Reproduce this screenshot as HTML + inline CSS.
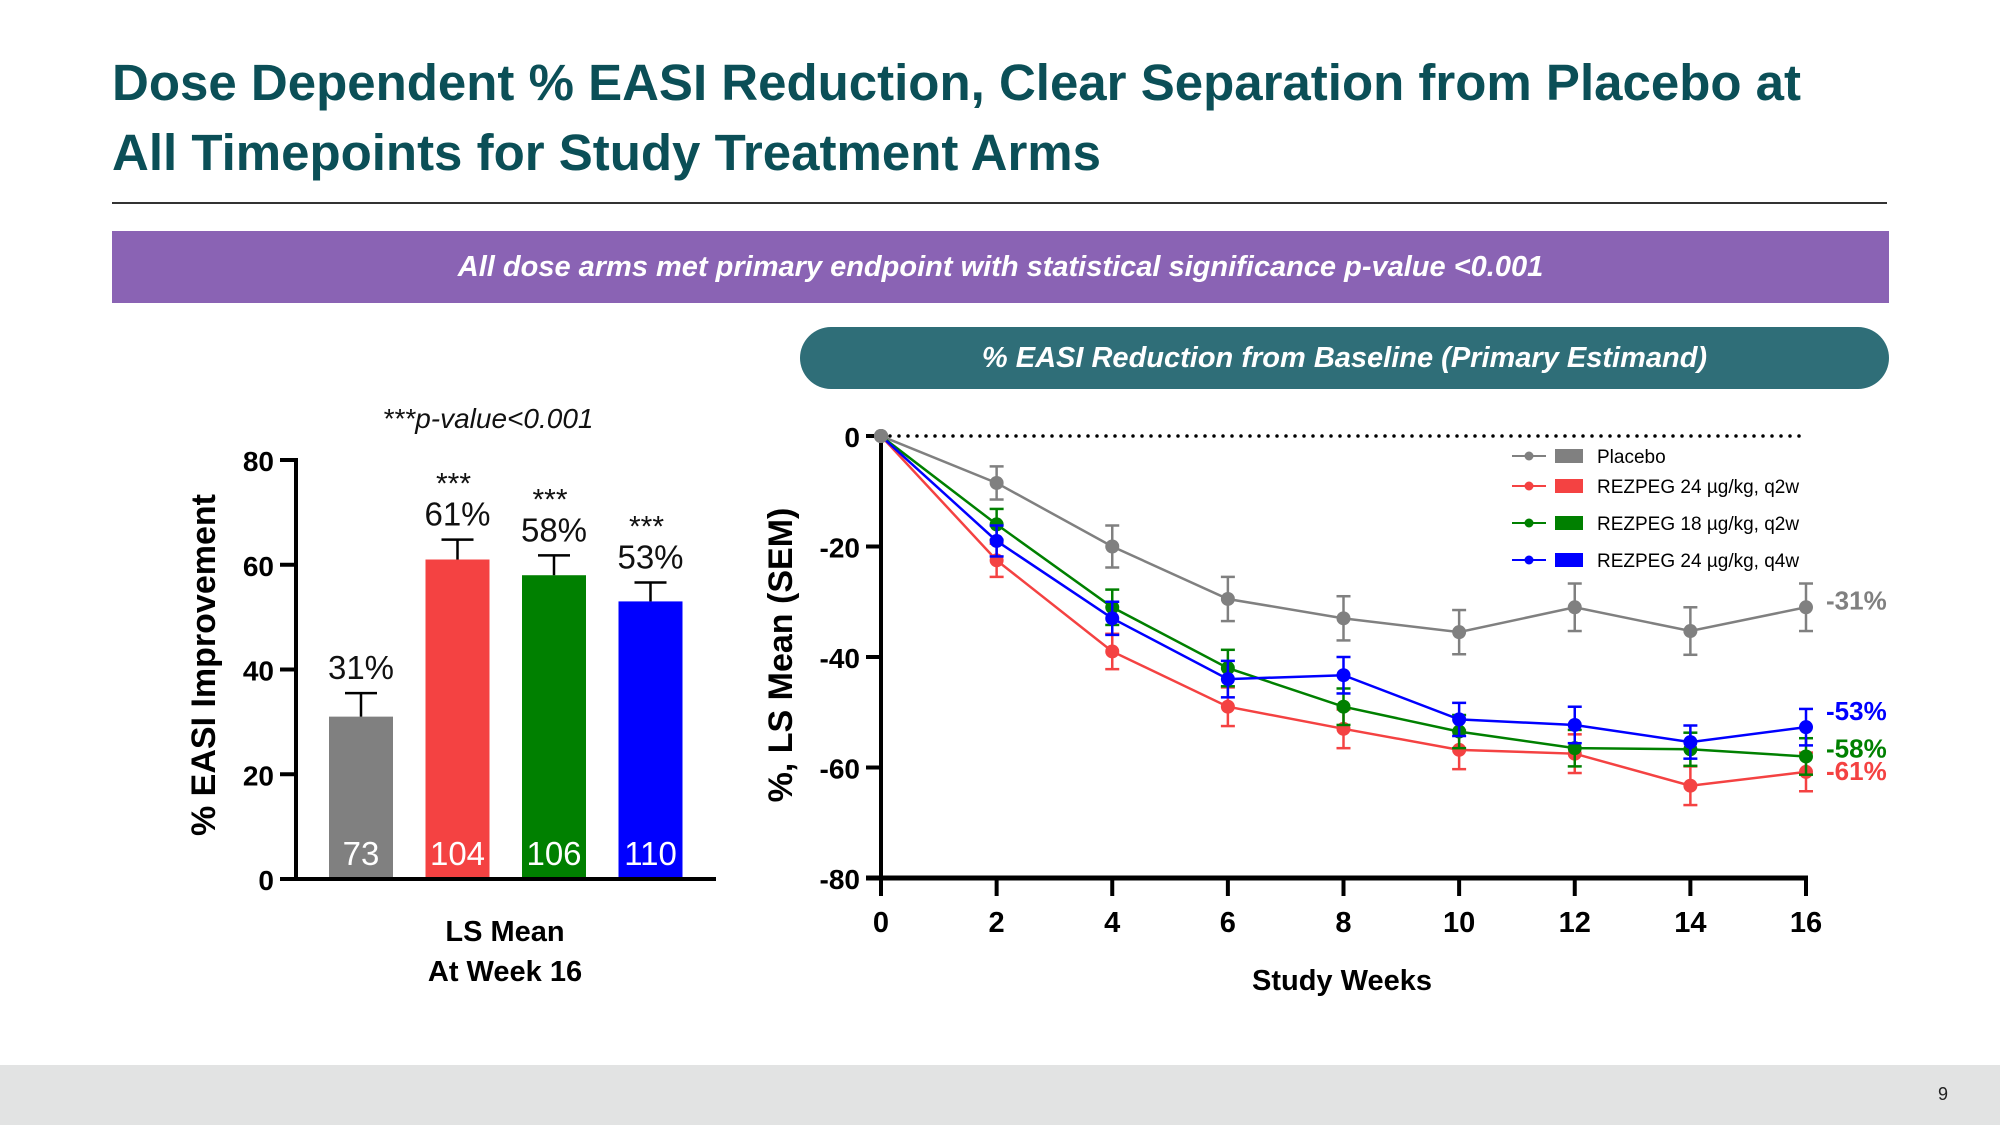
<!DOCTYPE html>
<html><head><meta charset="utf-8"><style>
body{margin:0;width:2000px;height:1125px;overflow:hidden;background:#fff;font-family:"Liberation Sans",sans-serif;position:relative}
.title{position:absolute;left:112px;top:48px;font-size:51px;font-weight:bold;color:#0b4f57;line-height:70px}
.rule{position:absolute;left:112px;top:202px;width:1775px;height:2px;background:#333}
.banner{position:absolute;left:112px;top:231px;width:1777px;height:72px;background:#8a63b4;color:#fff;font-style:italic;font-weight:bold;font-size:29px;text-align:center;line-height:72px}
.pill{position:absolute;left:800px;top:327px;width:1089px;height:62px;border-radius:31px;background:#2f6e78;color:#fff;font-style:italic;font-weight:bold;font-size:29px;text-align:center;line-height:62px}
.footer{position:absolute;left:0;top:1065px;width:2000px;height:60px;background:#e2e3e3}
.pg{position:absolute;left:1938px;top:1084px;font-size:18px;color:#222}
svg{position:absolute;left:0;top:0}
</style></head><body>
<div class="title">Dose Dependent % EASI Reduction, Clear Separation from Placebo at<br>All Timepoints for Study Treatment Arms</div>
<div class="rule"></div>
<div class="banner">All dose arms met primary endpoint with statistical significance p-value &lt;0.001</div>
<div class="pill">% EASI Reduction from Baseline (Primary Estimand)</div>
<div class="footer"></div>
<div class="pg">9</div>
<svg id="chart" width="2000" height="1125"></svg>
<script>
const barLabels=["Placebo","REZPEG 24 q2w","REZPEG 18 q2w","REZPEG 24 q4w"];
const barValues=[31,61,58,53];
const barErr=[4.5,3.8,3.8,3.6];
const barN=["73","104","106","110"];
const barPct=["31%","61%","58%","53%"];
const barStars=["","***","***","***"];
const barTicks=[0,20,40,60,80];
const colors=["#808080","#f44242","#008000","#0000ff"];

const weeks=[0,2,4,6,8,10,12,14,16];
const placebo=[0,-8.5,-20,-29.5,-33,-35.5,-31,-35.3,-31];
const rez24q2=[0,-22.5,-39,-49,-53,-56.8,-57.5,-63.3,-60.8];
const rez18q2=[0,-16,-31,-42,-49,-53.5,-56.5,-56.7,-58];
const rez24q4=[0,-19,-33,-44,-43.3,-51.3,-52.3,-55.4,-52.7];
const placeboErr=[0,3,3.8,4,4,4,4.3,4.3,4.3];
const rez24q2Err=[0,3,3.2,3.5,3.5,3.5,3.5,3.5,3.5];
const rez18q2Err=[0,2.8,3.2,3.3,3.3,3,3.3,3,3.3];
const rez24q4Err=[0,2.8,3,3.3,3.3,3,3.3,3,3.3];
const lineNames=["Placebo","REZPEG 24 µg/kg, q2w","REZPEG 18 µg/kg, q2w","REZPEG 24 µg/kg, q4w"];
const endLabels=["-31%","-61%","-58%","-53%"];
const xTicks=[0,2,4,6,8,10,12,14,16];
const yTicks=[0,-20,-40,-60,-80];

const NS="http://www.w3.org/2000/svg";
const svg=document.getElementById('chart');
function mk(tag,attrs,text){const e=document.createElementNS(NS,tag);for(const k in attrs)e.setAttribute(k,attrs[k]);if(text!==undefined)e.textContent=text;svg.appendChild(e);return e;}

// Bar chart
const by=v=>879-(v/80)*(879-460);
const bx=i=>329+i*96.5;const bw=64;
let t=mk('text',{x:488,y:428,'font-size':28,'font-style':'italic','text-anchor':'middle',fill:'#111'},'***p-value<0.001');


barValues.forEach((v,i)=>{
  const r=mk('rect',{x:bx(i),y:by(v),width:bw,height:879-by(v),fill:colors[i]});
  
  
  const cx=bx(i)+bw/2, ty=by(v+barErr[i]);
  mk('line',{x1:cx,y1:by(v),x2:cx,y2:ty,stroke:'#000','stroke-width':2.5});
  mk('line',{x1:cx-16,y1:ty,x2:cx+16,y2:ty,stroke:'#000','stroke-width':2.5});
  const p=mk('text',{x:cx,y:ty-14,'font-size':33,'text-anchor':'middle',fill:'#111'},barPct[i]);
  
  
  if(barStars[i]){const s=mk('text',{x:cx-4,y:ty-46,'font-size':30,'text-anchor':'middle',fill:'#111'},barStars[i]);
    
    }
  const n=mk('text',{x:cx,y:865,'font-size':33,'text-anchor':'middle',fill:'#fff'},barN[i]);
  
  
});
mk('line',{x1:296,y1:458,x2:296,y2:881,stroke:'#000','stroke-width':4});
mk('line',{x1:280,y1:879,x2:716,y2:879,stroke:'#000','stroke-width':4});
barTicks.forEach(v=>{mk('line',{x1:280,y1:by(v),x2:296,y2:by(v),stroke:'#000','stroke-width':4});
  const l=mk('text',{x:274,y:by(v)+11,'font-size':28,'font-weight':'bold','text-anchor':'end',fill:'#000'},v);
  
  });
t=mk('text',{x:215,y:665,'font-size':34,'font-weight':'bold','text-anchor':'middle',fill:'#000',transform:'rotate(-90 215 665)'},'% EASI Improvement');


t=mk('text',{x:505,y:941,'font-size':29,'font-weight':'bold','text-anchor':'middle',fill:'#000'},'LS Mean');


t=mk('text',{x:505,y:981,'font-size':29,'font-weight':'bold','text-anchor':'middle',fill:'#000'},'At Week 16');



// Line chart
const lx=w=>881+w/16*(1806-881);
const ly=v=>436+(-v/80)*(878-436);
mk('line',{x1:lx(0),y1:ly(0),x2:1806,y2:ly(0),stroke:'#000','stroke-width':3.5,'stroke-dasharray':'0 9','stroke-linecap':'round'});
mk('line',{x1:881,y1:434,x2:881,y2:880,stroke:'#000','stroke-width':4});
mk('line',{x1:866,y1:878,x2:1808,y2:878,stroke:'#000','stroke-width':5});
yTicks.forEach(v=>{mk('line',{x1:866,y1:ly(v),x2:881,y2:ly(v),stroke:'#000','stroke-width':4});
  const l=mk('text',{x:860,y:ly(v)+11,'font-size':28,'font-weight':'bold','text-anchor':'end',fill:'#000'},v);
  
  });
xTicks.forEach(w=>{mk('line',{x1:lx(w),y1:878,x2:lx(w),y2:896,stroke:'#000','stroke-width':4});
  const l=mk('text',{x:lx(w),y:932,'font-size':29,'font-weight':'bold','text-anchor':'middle',fill:'#000'},w);
  
  });
t=mk('text',{x:1342,y:990,'font-size':29,'font-weight':'bold','text-anchor':'middle',fill:'#000'},'Study Weeks');


t=mk('text',{x:792,y:655,'font-size':34,'font-weight':'bold','text-anchor':'middle',fill:'#000',transform:'rotate(-90 792 655)'},'%, LS Mean (SEM)');



const series=[placebo,rez24q2,rez18q2,rez24q4];
const errs=[placeboErr,rez24q2Err,rez18q2Err,rez24q4Err];
const order=[0,1,2,3];
order.forEach(s=>{
  const d=series[s],c=colors[s];
  d.forEach((v,i)=>{if(!errs[s][i])return;const x=lx(weeks[i]);
    mk('line',{x1:x,y1:ly(v-errs[s][i]),x2:x,y2:ly(v+errs[s][i]),stroke:c,'stroke-width':2.5});
    mk('line',{x1:x-7,y1:ly(v-errs[s][i]),x2:x+7,y2:ly(v-errs[s][i]),stroke:c,'stroke-width':2.5});
    mk('line',{x1:x-7,y1:ly(v+errs[s][i]),x2:x+7,y2:ly(v+errs[s][i]),stroke:c,'stroke-width':2.5});});
  const pl=mk('polyline',{points:d.map((v,i)=>lx(weeks[i])+','+ly(v)).join(' '),fill:'none',stroke:c,'stroke-width':2.5});
  
  
  d.forEach((v,i)=>{const p=mk('circle',{cx:lx(weeks[i]),cy:ly(v),r:7,fill:i===0?'#808080':c});
    
    });
  const last=d[d.length-1];
  const eo=[-8,-2,-9,-17][s];
  const el=mk('text',{x:1826,y:ly(last)+10+eo,'font-size':26,'font-weight':'bold',fill:c},endLabels[s]);
  
  
});
// legend
const legY=[456,486,523,560];
lineNames.forEach((n,i)=>{const y=legY[i],c=colors[i];
  mk('line',{x1:1512,y1:y,x2:1546,y2:y,stroke:c,'stroke-width':2});
  mk('circle',{cx:1529,cy:y,r:4.5,fill:c});
  mk('rect',{x:1555,y:y-7,width:28,height:14,fill:c});
  const l=mk('text',{x:1597,y:y+7,'font-size':19,fill:'#000'},n);
  
  });
</script>
</body></html>
